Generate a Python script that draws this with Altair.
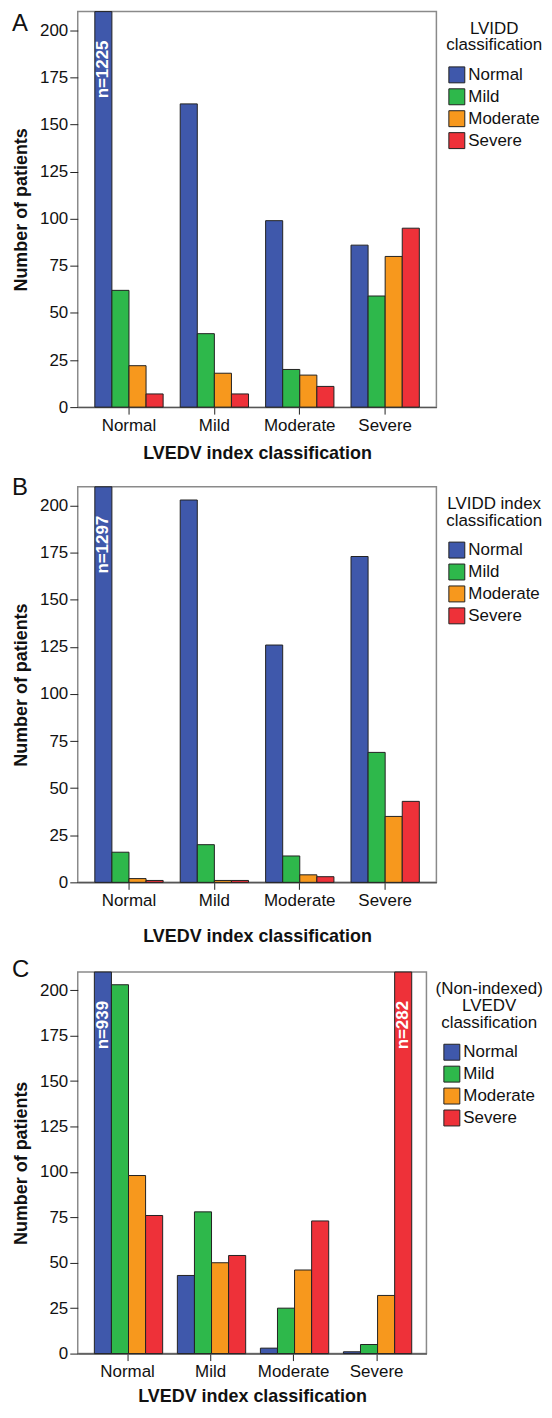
import altair as alt
import pandas as pd

categories = ["Normal", "Mild", "Moderate", "Severe"]
series = ["Normal", "Mild", "Moderate", "Severe"]
colors = ["#3F58AB", "#2EB84B", "#F7981D", "#EE3139"]

# Panel A: LVIDD classification within LVEDV index classes
a_normal = [1225, 161, 99, 86]
a_mild = [62, 39, 20, 59]
a_moderate = [22, 18, 17, 80]
a_severe = [7, 7, 11, 95]

# Panel B: LVIDD index classification
b_normal = [1297, 203, 126, 173]
b_mild = [16, 20, 14, 69]
b_moderate = [2, 1, 4, 35]
b_severe = [1, 1, 3, 43]

# Panel C: (Non-indexed) LVEDV classification
c_normal = [939, 43, 3, 1]
c_mild = [203, 78, 25, 5]
c_moderate = [98, 50, 46, 32]
c_severe = [76, 54, 73, 282]

YMAX = 210
FONT = "Liberation Sans"


def make_df(lists):
    rows = []
    for s, vals in zip(series, lists):
        for c, v in zip(categories, vals):
            rows.append({"cat": c, "grp": s, "n": v})
    return pd.DataFrame(rows)


def panel(letter, legend_title, lists, w, h, letter_y, legend_gap, xtitle_pad):
    df = make_df(lists)
    base = alt.Chart(df)
    x_enc = alt.X(
        "cat:N", sort=categories,
        scale=alt.Scale(paddingInner=0.2, paddingOuter=0.2),
        axis=alt.Axis(title="LVEDV index classification", labelAngle=0,
                      labelFontSize=17, labelPadding=3, tickSize=7,
                      tickColor="#222", domain=True, domainColor="#555",
                      domainWidth=1.5, titleFontSize=18, titleFontWeight="bold",
                      titlePadding=xtitle_pad, labelColor="#111", titleColor="#111"),
    )
    xo_enc = alt.XOffset("grp:N", sort=series,
                         scale=alt.Scale(paddingInner=0, paddingOuter=0))
    bars = base.mark_bar(stroke="#222", strokeWidth=1).encode(
        x=x_enc,
        xOffset=xo_enc,
        y=alt.Y("n:Q",
                scale=alt.Scale(domain=[0, YMAX], clamp=True, nice=False, zero=True),
                axis=alt.Axis(values=list(range(0, 201, 25)), title="Number of patients",
                              grid=False, domain=False, tickSize=8, tickColor="#222",
                              labelFontSize=17, labelPadding=2, labelColor="#111",
                              titleFontSize=18, titleFontWeight="bold", titlePadding=9,
                              titleColor="#111")),
        color=alt.Color("grp:N", sort=series,
                        scale=alt.Scale(domain=series, range=colors),
                        legend=alt.Legend(title=legend_title, orient="none",
                                          legendX=w + legend_gap, legendY=9)),
    )
    labels = base.transform_filter(f"datum.n > {YMAX}").transform_calculate(
        lab="'n=' + datum.n"
    ).mark_text(angle=270, align="right", baseline="middle",
                color="white", fontSize=17, fontWeight="bold", font=FONT).encode(
        x=alt.X("cat:N", sort=categories),
        xOffset=alt.XOffset("grp:N", sort=series),
        y=alt.value(29),
        text="lab:N",
    )
    let = alt.Chart(pd.DataFrame({"t": [letter]})).mark_text(
        align="left", baseline="alphabetic", fontSize=24, font=FONT, color="#111"
    ).encode(x=alt.value(-66), y=alt.value(letter_y), text="t:N")
    return alt.layer(bars, labels, let).properties(width=w, height=h)


pa = panel("A", ["LVIDD", "classification"],
           [a_normal, a_mild, a_moderate, a_severe], 360, 397, 19, 10, 12)
pb = panel("B", ["LVIDD index", "classification"],
           [b_normal, b_mild, b_moderate, b_severe], 360, 397, 8, 10, 19)
pc = panel("C", ["(Non-indexed)", "LVEDV", "classification"],
           [c_normal, c_mild, c_moderate, c_severe], 350, 383, 5, 9, 8)

chart = alt.vconcat(pa, pb, pc, spacing=11).resolve_scale(
    color="independent"
).resolve_legend(color="independent").configure(
    font=FONT
).configure_view(
    stroke="#8a8a8a", strokeWidth=1.5
).configure_legend(
    titleFontSize=17, titleFontWeight="normal",
    titleAlign="center", titleAnchor="middle", titleColor="#111",
    titleLineHeight=17, titlePadding=12,
    labelFontSize=17, labelColor="#111", labelOffset=3, labelLimit=200,
    symbolType="square", symbolSize=256, symbolStrokeColor="#222",
    symbolStrokeWidth=1, symbolOpacity=1, rowPadding=1,
).properties(padding={"left": 3, "top": -1, "right": 0, "bottom": 0})

chart.save("out.html", embed_options={"renderer": "svg", "actions": False})
